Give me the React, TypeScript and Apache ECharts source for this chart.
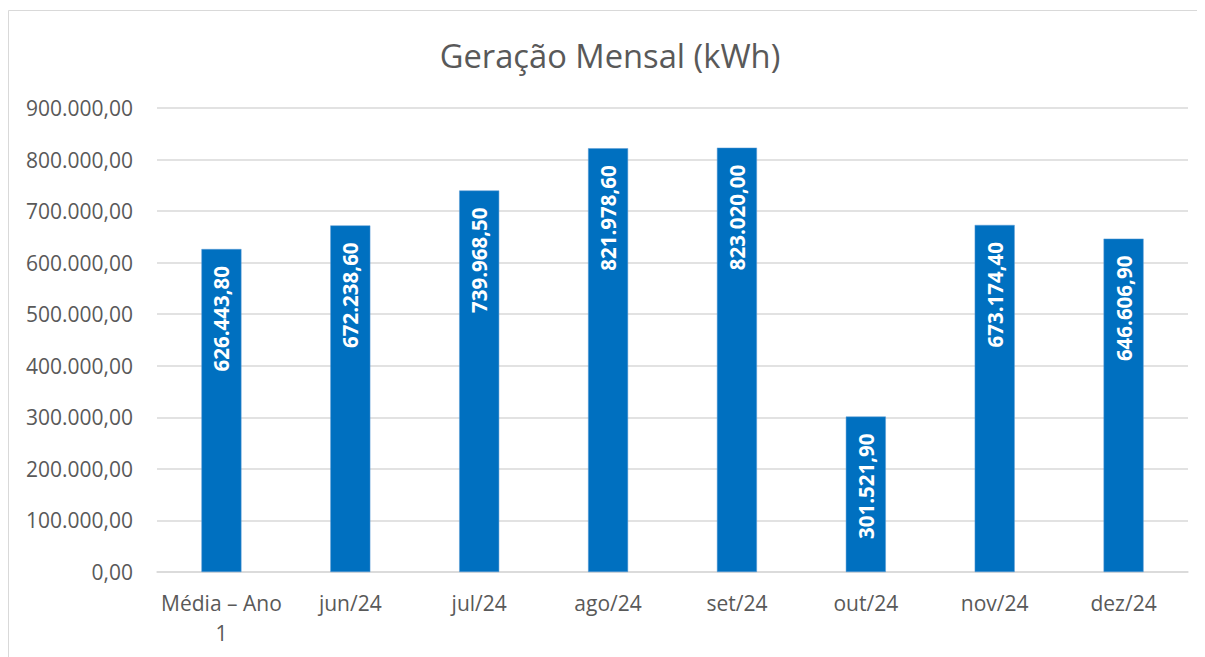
import React, { useEffect, useRef } from "react";
import * as echarts from "echarts";

const categories = ["Média – Ano 1", "jun/24", "jul/24", "ago/24", "set/24", "out/24", "nov/24", "dez/24"];
const values = [626443.8, 672238.6, 739968.5, 821978.6, 823020.0, 301521.9, 673174.4, 646606.9];
const yTicks = { min: 0, max: 900000, interval: 100000 };

const fmt = (v: number) => {
  const [i, d] = v.toFixed(2).split(".");
  return i.replace(/\B(?=(\d{3})+(?!\d))/g, ".") + "," + d;
};

export default function App() {
  const ref = useRef<HTMLDivElement>(null);
  useEffect(() => {
    document.body.style.overflow = "hidden";
    if (!ref.current) return;
    const chart = echarts.init(ref.current, null, { renderer: "svg" });
    chart.setOption({
      animation: false,
      backgroundColor: "#fff",
      textStyle: { fontFamily: "Open Sans" },
      title: {
        text: "Geração Mensal (kWh)",
        left: 597,
        textAlign: "center",
        top: 26,
        textStyle: { fontFamily: "Open Sans", fontSize: 32.7, fontWeight: "normal", color: "#595959" },
      },
      graphic: [
        {
          type: "rect",
          shape: { x: 0.5, y: 2.5, width: 1300, height: 800 },
          style: { fill: "none", stroke: "#D9D9D9", lineWidth: 1 },
          silent: true,
        },
      ],
      grid: { left: 149, right: 17, top: 100, bottom: 85 },
      xAxis: {
        type: "category",
        data: categories,
        axisLine: { lineStyle: { color: "#D9D9D9", width: 1.5 } },
        axisTick: { show: false },
        axisLabel: {
          fontFamily: "Open Sans",
          fontSize: 21,
          color: "#595959",
          margin: 16,
          lineHeight: 30,
          interval: 0,
          formatter: (v: string) => (v.length > 10 ? v.replace(/ (\S+)$/, "\n$1") : v),
        },
      },
      yAxis: {
        type: "value",
        min: yTicks.min,
        max: yTicks.max,
        interval: yTicks.interval,
        axisLine: { show: false },
        axisTick: { show: false },
        splitLine: { lineStyle: { color: "#D9D9D9", width: 1.5 } },
        axisLabel: {
          fontFamily: "Open Sans",
          fontSize: 21,
          color: "#595959",
          margin: 24,
          formatter: (v: number) => fmt(v),
        },
      },
      series: [
        {
          type: "bar",
          data: values,
          barWidth: 40,
          itemStyle: { color: "#0070C0", borderColor: "#5B9BD5", borderWidth: 0.5 },
          label: {
            show: true,
            position: "insideTop",
            rotate: 90,
            align: "right",
            verticalAlign: "middle",
            distance: 17,
            color: "#fff",
            fontFamily: "Open Sans",
            fontWeight: "bold",
            fontSize: 20.5,
            formatter: (p: any) => fmt(p.value),
          },
        },
      ],
    });
    return () => chart.dispose();
  }, []);
  return <div ref={ref} style={{ width: 1197, height: 649 }} />;
}
